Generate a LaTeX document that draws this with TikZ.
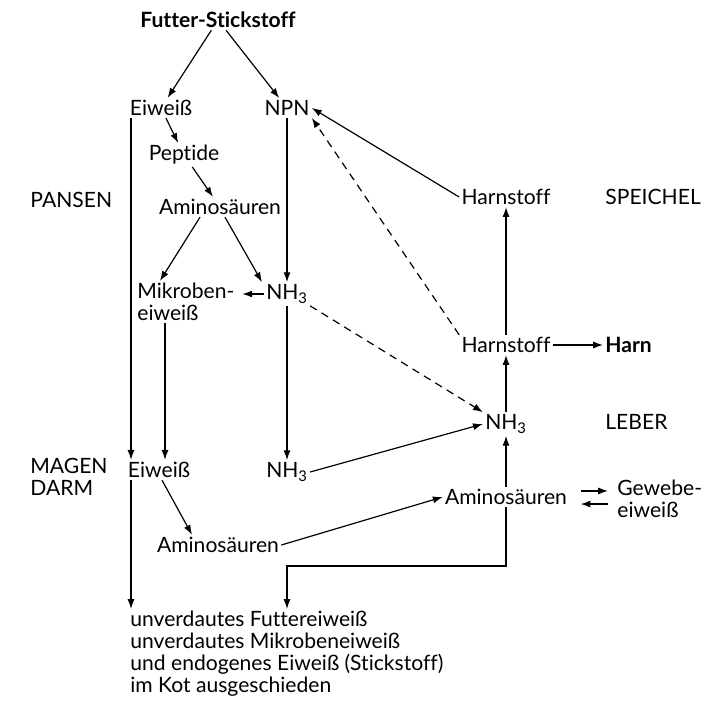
\documentclass[tikz,border=0pt]{standalone}
\usepackage{fontspec}
\setmainfont[Ligatures=NoCommon]{Lato}
\usetikzlibrary{arrows.meta}
\tikzset{
  lbl/.style={inner sep=1.5pt, font=\fontsize{15}{15.5}\selectfont},
  arr/.style={-{Latex[length=7pt,width=5pt]}, line width=0.85pt},
  dasharr/.style={arr, dash pattern=on 5.5pt off 4pt},
}
\begin{document}
\begin{tikzpicture}[x=0.025cm,y=-0.025cm]
  \useasboundingbox (0,0) rectangle (707,715);
  % lanes
  \def\lanex{131}
  \def\mikrox{165}
  \def\kotx{287}
  \def\belowy{566}

  % Pansen
  \node[lbl] (futter) at (218,20) {\textbf{Futter-Stickstoff}};
  \node[lbl] (eitop) at (161,108) {Eiweiß};
  \node[lbl] (npn) at (287,108) {NPN};
  \node[lbl] (pep) at (184,155) {Peptide};
  \node[lbl] (amp) at (220,207) {Aminosäuren};
  \node[lbl, align=left, anchor=west] (mikro) at (135,302) {Mikroben-\\eiweiß};
  \node[lbl] (nhp) at (287,294) {NH\textsubscript{3}};

  % Magen/Darm
  \node[lbl] (eibot) at (159,470) {Eiweiß};
  \node[lbl] (nhb) at (287,472) {NH\textsubscript{3}};
  \node[lbl] (amb) at (218,545) {Aminosäuren};

  % Leber, Speichel
  \node[lbl] (hsp) at (506,197) {Harnstoff};
  \node[lbl] (hle) at (506,345) {Harnstoff};
  \node[lbl, anchor=west] (harn) at (603,345) {\textbf{Harn}};
  \node[lbl] (nhl) at (506,424) {NH\textsubscript{3}};
  \node[lbl] (aml) at (506,497) {Aminosäuren};
  \node[lbl, align=left, anchor=west] (gew) at (615,499) {Gewebe-\\eiweiß};

  % regions
  \node[lbl, anchor=west] (pansen) at (28,200) {PANSEN};
  \node[lbl, anchor=west] (speichel) at (603,197) {SPEICHEL};
  \node[lbl, anchor=west] (leber) at (603,422) {LEBER};
  \node[lbl, anchor=west, align=left] (magen) at (28,477) {MAGEN\\DARM};

  \node[lbl, anchor=north west, align=left] (kot) at (128,609)
    {unverdautes Futtereiweiß\\unverdautes Mikrobeneiweiß\\und endogenes Eiweiß (Stickstoff)\\im Kot ausgeschieden};

  \draw[arr] (futter) -- (eitop);
  \draw[arr] (futter) -- (npn);
  \draw[arr] (eitop) -- (pep);
  \draw[arr] (pep) -- (amp);
  \draw[arr] (amp.south -| 200,0) -- (mikro.north -| 160,0);
  \draw[arr] (amp.south -| 225,0) -- (nhp.north -| 262,0);
  \draw[arr] (npn) -- (nhp);
  \draw[arr, shorten >=4pt] (nhp.west) -- (nhp.west -| mikro.east);
  \draw[arr] (eitop.south -| \lanex,0) -- (eibot.north -| \lanex,0);
  \draw[arr] (mikro.south -| \mikrox,0) -- (eibot.north -| \mikrox,0);
  \draw[arr] (nhp) -- (nhb);
  \draw[arr] (eibot.south -| \lanex,0) -- (kot.north -| \lanex,0);
  \draw[arr] (eibot.south -| 162,0) -- (amb.north -| 192,0);
  \draw[arr] (nhb.east) -- (nhl.west);
  \draw[arr] (amb.east) -- (aml.west);
  \draw[arr] (aml.south) -- (aml.south |- 0,\belowy) -| (kot.north -| \kotx,0);
  \draw[arr] (aml) -- (nhl);
  \draw[arr] (nhl) -- (hle);
  \draw[arr] (hle) -- (hsp);
  \draw[arr] (hle.east) -- (harn.west);
  \draw[arr] (hsp.west) -- (npn.east);
  \draw[dasharr] (hle.north west) -- (npn.south east);
  \draw[dasharr] (nhp.south east) -- (nhl.north west);
  \draw[arr, shorten <=8pt, shorten >=5pt] ([yshift=4.3pt]aml.east) -- ([yshift=4.3pt]aml.east -| gew.west);
  \draw[arr, shorten <=5pt, shorten >=8pt] ([yshift=-5pt]aml.east -| gew.west) -- ([yshift=-5pt]aml.east);
\end{tikzpicture}
\end{document}
